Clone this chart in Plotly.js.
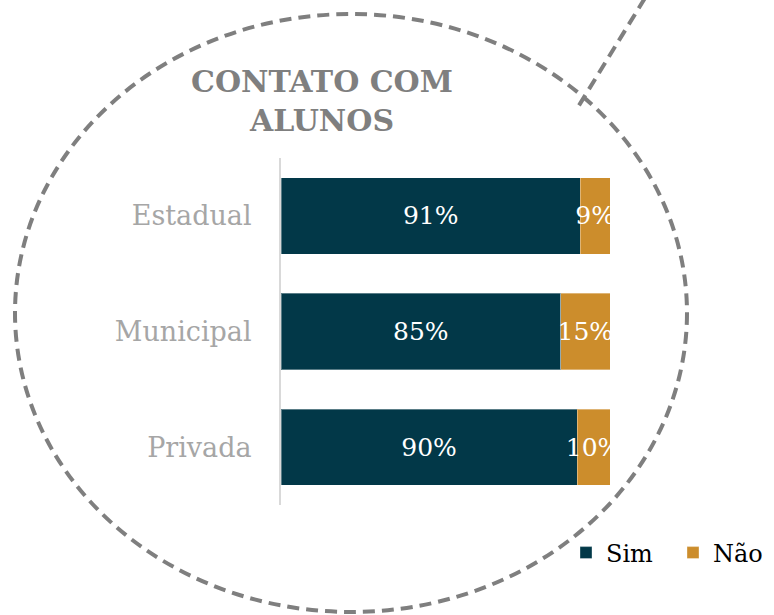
<!DOCTYPE html>
<html>
<head>
<meta charset="utf-8">
<script src="https://cdn.plot.ly/plotly-3.0.1.min.js"></script>
<style>html,body{margin:0;padding:0;background:#fff;}#chart{width:774px;height:615px;}</style>
</head>
<body>
<div id="chart"></div>
<script>
const categories = ["Estadual", "Municipal", "Privada"];
const simValues = [0.91, 0.85, 0.90];
const naoValues = [0.09, 0.15, 0.10];
const seriesNames = ["Sim", "Não"];
const titleText = "CONTATO COM<br>ALUNOS";

const W = 774, H = 615;
const mL = 281, mR = 164, mT = 158, mB = 110;
const pw = W - mL - mR, ph = H - mT - mB;
const px = v => (v - mL) / pw;
const py = v => (H - mB - v) / ph;

const serif = "DejaVu Serif";
const pct = a => a.map(v => Math.round(v * 100) + "%");

const traces = [
  {
    type: "bar", orientation: "h", name: seriesNames[0],
    y: categories, x: simValues, text: pct(simValues),
    textposition: "inside", insidetextanchor: "middle", textangle: 0,
    constraintext: "none",
    insidetextfont: {family: serif, size: 25, color: "#ffffff"},
    marker: {color: "#023848", line: {color: "rgba(255,255,255,0.35)", width: 1}},
    hoverinfo: "none"
  },
  {
    type: "bar", orientation: "h", name: seriesNames[1],
    y: categories, x: naoValues, text: pct(naoValues),
    textposition: "inside", insidetextanchor: "middle", textangle: 0,
    constraintext: "none",
    insidetextfont: {family: serif, size: 25, color: "#ffffff"},
    marker: {color: "#CC8D2C", line: {color: "rgba(255,255,255,0.35)", width: 1}},
    hoverinfo: "none"
  }
];

const layout = {
  width: W, height: H,
  margin: {l: mL, r: mR, t: mT, b: mB, pad: 0},
  paper_bgcolor: "#ffffff", plot_bgcolor: "#ffffff",
  barmode: "stack", bargap: 0.34,
  font: {family: serif, color: "#000"},
  title: {
    text: titleText,
    font: {family: serif, size: 30, color: "#7f7f7f", weight: "bold"},
    x: 322 / W, xanchor: "center", xref: "container",
    y: 1 - 92 / H, yanchor: "top", yref: "container"
  },
  xaxis: {range: [0, 1], showgrid: false, zeroline: false, showticklabels: false, showline: false, fixedrange: true},
  yaxis: {
    autorange: "reversed", showgrid: false, zeroline: false,
    showline: true, linecolor: "#d9d9d9", linewidth: 2,
    ticks: "", ticklabelstandoff: 22,
    tickfont: {family: serif, size: 27, color: "#a6a6a6"}
  },
  showlegend: true,
  legend: {
    orientation: "h", xref: "container", yref: "container",
    x: 566 / W, xanchor: "left", y: 1 - 553 / H, yanchor: "middle",
    font: {family: serif, size: 24, color: "#000"},
    itemwidth: 30, entrywidth: 62, entrywidthmode: "pixels",
    traceorder: "normal", bgcolor: "rgba(0,0,0,0)"
  },
  shapes: [
    {type: "circle", xref: "paper", yref: "paper",
     x0: px(15), x1: px(687), y0: py(612), y1: py(14),
     line: {color: "#7f7f7f", width: 4, dash: "12px,7px"}, fillcolor: "rgba(0,0,0,0)", layer: "above"},
    {type: "line", xref: "paper", yref: "paper",
     x0: px(645), y0: py(-2), x1: px(578), y1: py(107),
     line: {color: "#7f7f7f", width: 4, dash: "12px,7px"}, layer: "above"}
  ]
};

Plotly.newPlot("chart", traces, layout, {displayModeBar: false, staticPlot: true});
</script>
</body>
</html>
